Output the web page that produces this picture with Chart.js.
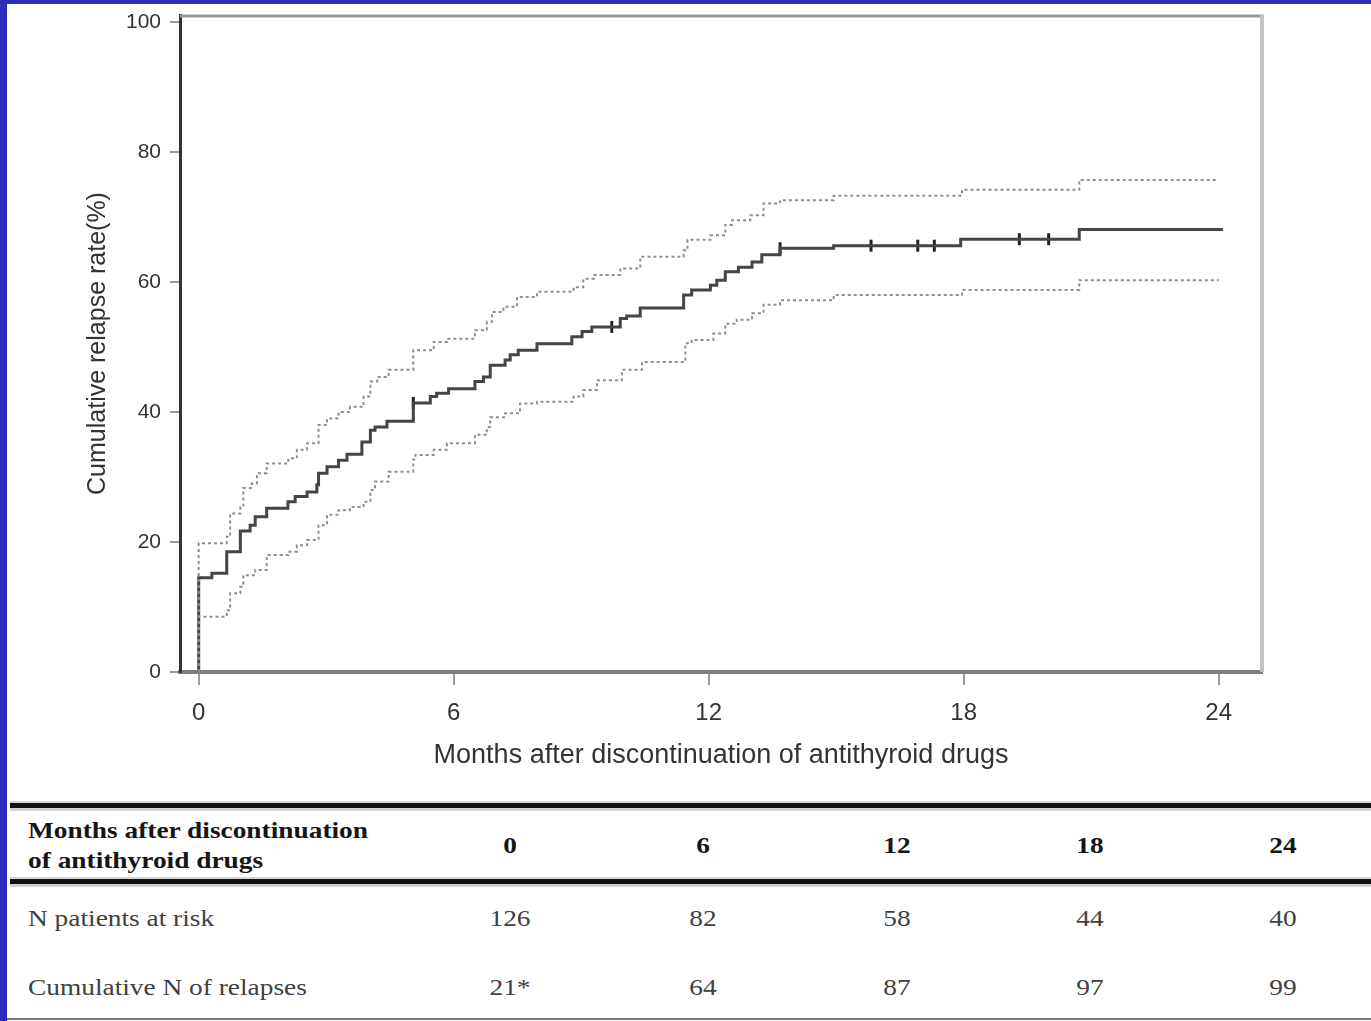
<!DOCTYPE html>
<html>
<head>
<meta charset="utf-8">
<script src="https://cdn.jsdelivr.net/npm/chart.js@4.4.1/dist/chart.umd.min.js"></script>
<style>
  body { margin: 0; background: #fff; width: 1371px; height: 1021px; overflow: hidden; position: relative; }
  #blueLeft { position: absolute; left: 0; top: 0; width: 7px; height: 1021px; background: #2d2db9; z-index: 5; }
  #blueTop { position: absolute; left: 0; top: 0; width: 1371px; height: 4px; background: #2d2db9; z-index: 5; }
  #chartBox { position: absolute; left: 0; top: 0; width: 1371px; height: 790px; }
  .rule { position: absolute; left: 10px; width: 1361px; height: 5px; background: #111;
          border-top: 2px solid #d4d4d4; border-bottom: 3px solid #d4d4d4; }
  #bottomLine { position: absolute; left: 7px; top: 1018px; width: 1364px; height: 2px; background: #777; }
  .cell { position: absolute; height: 30px; line-height: 30px; white-space: nowrap;
          font-family: "Liberation Serif", "DejaVu Serif", serif; font-size: 24px; }
  .lbl { transform-origin: left center; transform: scaleX(1.14); }
  .num { transform: translateX(-50%) scaleX(1.14); }
  .head { font-weight: bold; color: #151515; }
  .body { color: #404040; }
</style>
</head>
<body>
<div id="blueLeft"></div>
<div id="blueTop"></div>
<div id="chartBox"><canvas id="kmChart"></canvas></div>
<div class="rule" style="top:801px"></div>
<div class="rule" style="top:877px"></div>
<div id="bottomLine"></div>
<div id="tableBox"></div>

<script>
// tick labels
const xTicks = [0, 6, 12, 18, 24];
const yTicks = [0, 20, 40, 60, 80, 100];

// cumulative relapse rate (%) - step points (month, value)
const mainT = [0, 0, 0.31, 0.66, 0.98, 1.21, 1.33, 1.6, 2.1, 2.27, 2.55, 2.78, 2.82, 3.02, 3.29, 3.49, 3.84, 4.04, 4.15, 4.43,
  5.05, 5.45, 5.6, 5.88, 6.5, 6.7, 6.86, 7.21, 7.33, 7.52, 7.96, 8.78, 9.02, 9.25, 9.92, 10.07, 10.39, 11.41, 11.6,
  12.04, 12.19, 12.39, 12.7, 13.02, 13.25, 13.68, 14.94, 17.93, 20.72, 24.1];
const mainV = [0, 14.5, 15.2, 18.5, 21.7, 22.6, 23.9, 25.2, 26.2, 27.0, 27.7, 28.8, 30.6, 31.6, 32.6, 33.5, 35.4, 37.2, 37.7, 38.6,
  41.4, 42.4, 42.9, 43.6, 44.7, 45.4, 47.2, 48.0, 48.8, 49.5, 50.5, 51.6, 52.4, 53.1, 54.4, 54.8, 56.0, 58.0, 58.8,
  59.5, 60.3, 61.6, 62.3, 63.1, 64.2, 65.2, 65.6, 66.6, 68.1, 68.1];

// upper 95% CI
const upperT = [0, 0, 0.66, 0.74, 0.98, 1.05, 1.25, 1.37, 1.6, 2.11, 2.31, 2.55, 2.82, 3.02, 3.29, 3.56, 3.88, 4.04, 4.2, 4.47,
  5.05, 5.53, 5.84, 6.5, 6.78, 6.9, 7.17, 7.49, 7.96, 8.82, 9.05, 9.3, 9.92, 10.39, 11.41, 11.5, 12.04, 12.39, 12.55,
  12.98, 13.29, 13.68, 14.94, 17.96, 20.72, 24.0];
const upperV = [0, 19.8, 20.8, 24.4, 25.4, 28.3, 29.0, 30.6, 32.1, 32.9, 34.2, 35.2, 38.0, 39.0, 40.0, 40.8, 42.4, 44.7, 45.4, 46.5,
  49.5, 50.8, 51.3, 52.6, 53.9, 55.4, 56.2, 57.7, 58.5, 59.2, 60.5, 61.1, 62.1, 63.9, 64.9, 66.5, 67.2, 68.8, 69.5,
  70.3, 72.1, 72.6, 73.3, 74.2, 75.7, 75.7];

// lower 95% CI
const lowerT = [0, 0, 0.66, 0.74, 0.98, 1.05, 1.33, 1.6, 2.11, 2.31, 2.55, 2.82, 3.02, 3.29, 3.56, 3.88, 4.04, 4.15, 4.47,
  5.05, 5.1, 5.53, 5.84, 6.5, 6.78, 6.86, 7.21, 7.56, 7.96, 8.82, 9.05, 9.37, 9.96, 10.43, 11.45, 11.6, 12.11, 12.39,
  12.66, 13.02, 13.29, 13.68, 14.94, 17.96, 20.72, 24.0];
const lowerV = [0, 8.5, 9.5, 12.1, 13.1, 14.9, 15.7, 18.0, 18.5, 19.5, 20.3, 22.6, 24.2, 24.9, 25.4, 26.2, 28.0, 29.3, 30.8,
  32.7, 33.4, 34.2, 35.2, 36.5, 37.7, 39.2, 39.8, 41.3, 41.6, 42.4, 43.4, 44.9, 46.5, 47.7, 50.6, 51.1, 52.1, 53.6,
  54.2, 55.2, 56.5, 57.2, 58.0, 58.8, 60.3, 60.3];

// censored observations
const censorT = [5.05, 9.72, 13.68, 15.82, 16.92, 17.31, 19.31, 20.0];
const censorV = [41.4, 53.1, 65.2, 65.6, 65.6, 65.6, 66.6, 66.6];

// table below the chart
const tableHead = ['Months after discontinuation', 'of antithyroid drugs'];
const tableMonths = ['0', '6', '12', '18', '24'];
const rowLabels = ['N patients at risk', 'Cumulative N of relapses'];
const atRisk = ['126', '82', '58', '44', '40'];
const relapses = ['21*', '64', '87', '97', '99'];

function toPoints(ts, vs) {
  let pts = [];
  for (let i = 0; i < ts.length; i++) {
    pts.push({x: ts[i], y: vs[i]});
  }
  return pts;
}

// top and right frame of the plot box
const framePlugin = {
  id: 'frame',
  afterDraw(chart) {
    const a = chart.chartArea;
    const c = chart.ctx;
    c.save();
    c.strokeStyle = '#9a9a9a';
    c.lineWidth = 3;
    c.beginPath();
    c.moveTo(a.left, a.top + 1);
    c.lineTo(a.right + 2, a.top + 1);
    c.stroke();
    c.strokeStyle = '#c2c2c2';
    c.lineWidth = 4;
    c.beginPath();
    c.moveTo(a.right, a.top);
    c.lineTo(a.right, a.bottom);
    c.stroke();
    c.restore();
  }
};

const ctx = document.getElementById('kmChart');
new Chart(ctx, {
  type: 'line',
  data: {
    datasets: [
      {
        label: 'Upper CI',
        data: toPoints(upperT, upperV),
        stepped: true,
        borderColor: '#8e8e8e',
        borderWidth: 2,
        borderDash: [3, 3],
        pointRadius: 0,
        fill: false
      },
      {
        label: 'Lower CI',
        data: toPoints(lowerT, lowerV),
        stepped: true,
        borderColor: '#8e8e8e',
        borderWidth: 2,
        borderDash: [3, 3],
        pointRadius: 0,
        fill: false
      },
      {
        label: 'Cumulative relapse rate',
        data: toPoints(mainT, mainV),
        stepped: true,
        borderColor: '#454545',
        borderWidth: 3,
        pointRadius: 0,
        fill: false
      },
      {
        label: 'Censored',
        type: 'scatter',
        data: toPoints(censorT, censorV),
        pointStyle: 'line',
        rotation: 90,
        pointRadius: 6,
        borderWidth: 3,
        borderColor: '#222',
        backgroundColor: '#222'
      }
    ]
  },
  options: {
    responsive: true,
    maintainAspectRatio: false,
    animation: false,
    layout: {
      padding: { top: 15, right: 109, left: 0, bottom: 0 }
    },
    plugins: {
      legend: { display: false },
      tooltip: { enabled: false }
    },
    scales: {
      x: {
        type: 'linear',
        min: -0.44,
        max: 25.02,
        afterBuildTicks: (scale) => { scale.ticks = xTicks.map(v => ({value: v})); },
        afterFit: (scale) => {
          scale.height = 118;
          scale.paddingLeft = 0;
          scale.paddingRight = 0;
        },
        border: { color: '#808080', width: 4 },
        grid: { drawOnChartArea: false, drawTicks: true, tickLength: 13, color: '#9a9a9a', lineWidth: 2 },
        ticks: {
          padding: 14,
          color: '#333',
          font: { family: 'Liberation Sans', size: 24 }
        },
        title: {
          display: true,
          text: 'Months after discontinuation of antithyroid drugs',
          color: '#333',
          font: { family: 'Liberation Sans', size: 27 },
          padding: { top: 0, bottom: 18 }
        }
      },
      y: {
        min: 0,
        max: 101.1,
        afterBuildTicks: (scale) => { scale.ticks = yTicks.map(v => ({value: v})); },
        afterFit: (scale) => {
          scale.width = 180;
          scale.paddingTop = 0;
          scale.paddingBottom = 0;
        },
        border: { color: '#333', width: 3 },
        grid: { drawOnChartArea: false, drawTicks: true, tickLength: 10, color: '#9a9a9a', lineWidth: 2 },
        ticks: {
          padding: 9,
          color: '#333',
          font: { family: 'Liberation Sans', size: 21 }
        },
        title: {
          display: true,
          text: 'Cumulative relapse rate(%)',
          color: '#333',
          font: { family: 'Liberation Sans', size: 25 },
          padding: { top: 83, bottom: 0 }
        }
      }
    }
  },
  plugins: [framePlugin]
});

// risk table
const tableBox = document.getElementById('tableBox');
const colX = [510, 703, 897, 1090, 1283];

function addCell(text, x, yMid, cls) {
  const d = document.createElement('div');
  d.className = 'cell ' + cls;
  d.style.left = x + 'px';
  d.style.top = (yMid - 15) + 'px';
  d.textContent = text;
  tableBox.appendChild(d);
}

addCell(tableHead[0], 28, 830, 'lbl head');
addCell(tableHead[1], 28, 860, 'lbl head');
for (let i = 0; i < tableMonths.length; i++) {
  addCell(tableMonths[i], colX[i], 845, 'num head');
  addCell(atRisk[i], colX[i], 918, 'num body');
  addCell(relapses[i], colX[i], 987, 'num body');
}
addCell(rowLabels[0], 28, 918, 'lbl body');
addCell(rowLabels[1], 28, 987, 'lbl body');
</script>
</body>
</html>
